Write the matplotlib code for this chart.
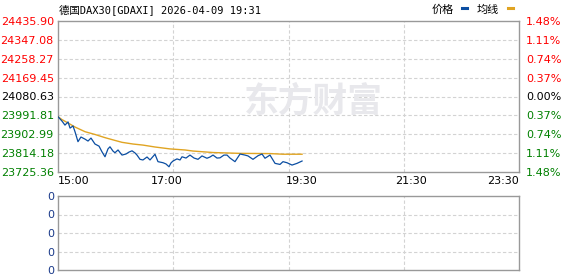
import matplotlib
matplotlib.use("Agg")
import matplotlib.pyplot as plt
import numpy as np

# ---- data ----
title = "德国DAX30[GDAXI] 2026-04-09 19:31"
y_ticks = [24435.90, 24347.08, 24258.27, 24169.45, 24080.63, 23991.81, 23902.99, 23814.18, 23725.36]
pct_labels = ["1.48%", "1.11%", "0.74%", "0.37%", "0.00%", "0.37%", "0.74%", "1.11%", "1.48%"]
time_labels = ["15:00", "17:00", "19:30", "21:30", "23:30"]
time_label_min = [0, 120, 270, 390, 510]
vol_labels = ["0", "0", "0", "0", "0"]

price_min = [0, 4.4, 7.7, 11.1, 13.3, 16.6, 18.8, 22.1, 25.4, 29.9, 33.2, 36.5, 40.9, 45.4, 48.7,
             52, 55.3, 57.5, 60.8, 63, 66.4, 70.8, 75.2, 78.5, 81.9, 85.2, 87.4, 90.7, 94, 98.5,
             101.8, 107.3, 110.6, 116.2, 119.5, 122.8, 125, 127.2, 131.6, 135, 137.2, 141.6, 146,
             150.5, 154.9, 159.3, 164.8, 168.2, 171.5, 175.9, 179.2, 183.6, 187, 190.3, 195.8,
             201.4, 206.9, 210.2, 215.7, 221.3, 225.7, 229, 234.5, 240.1, 245.6, 248.9, 253.3,
             258.9, 264.4, 270]
price_val = [23985.6, 23965, 23946, 23961, 23932, 23942, 23915, 23868, 23890, 23880, 23871, 23885,
             23857, 23847, 23820, 23797, 23834, 23844, 23824, 23816, 23829, 23805, 23810, 23819,
             23825, 23815, 23805, 23785, 23782, 23796, 23782, 23809, 23774, 23769, 23763, 23750,
             23768, 23777, 23787, 23782, 23797, 23791, 23805, 23791, 23785, 23801, 23790, 23796,
             23805, 23791, 23792, 23805, 23805, 23791, 23774, 23810, 23805, 23801, 23785, 23802,
             23810, 23790, 23805, 23766, 23761, 23774, 23769, 23758, 23766, 23777]

avg_min = [0, 4.4, 11.1, 18.8, 29.9, 40.9, 52, 63, 70.8, 83, 94, 107.3, 123.9, 140.5, 149.3,
           171.5, 201.4, 234.5, 248.9, 270]
avg_val = [23985.6, 23972, 23956, 23937, 23915, 23902, 23887, 23874, 23865, 23857, 23852, 23843,
           23834, 23829, 23824, 23817, 23813, 23812, 23809, 23809]

# ---- style ----
RED = "#ff0000"
GREEN = "#008000"
BLUE = "#0b4ea2"
GOLD = "#e0a422"
GRID = "#d3d3d3"
FRAME = "#999999"
plt.rcParams['font.family'] = ['DejaVu Sans', 'Noto Sans CJK SC']

fig = plt.figure(figsize=(5.78, 2.76), dpi=100)
W, H = 578, 276
L, R = 58, 519
ax = fig.add_axes([L / W, 1 - 172 / H, (R - L) / W, (172 - 21) / H])
axv = fig.add_axes([L / W, 1 - 270 / H, (R - L) / W, (270 - 196) / H])

for a in (ax, axv):
    a.set_xlim(0, 510)
    for s in a.spines.values():
        s.set_color(FRAME)
        s.set_linewidth(1.0)
    a.tick_params(length=0)
    for xg in [127.5, 255, 382.5]:
        a.axvline(xg, color=GRID, lw=0.8, ls=(0, (3, 2)), zorder=0)

# main axes
ax.set_ylim(y_ticks[-1], y_ticks[0])
for yv in y_ticks[1:-1]:
    ax.axhline(yv, color=GRID, lw=0.8, ls=(0, (3, 2)), zorder=0)
ax.set_yticks(y_ticks)
ax.set_yticklabels([f"{v:.2f}" for v in y_ticks], fontsize=8)
for i, lab in enumerate(ax.get_yticklabels()):
    lab.set_color(RED if i < 4 else ("black" if i == 4 else GREEN))
ax.tick_params(axis='y', pad=3)

ax2 = ax.twinx()
ax2.set_ylim(ax.get_ylim())
ax2.set_yticks(y_ticks)
ax2.set_yticklabels(pct_labels, fontsize=8)
for i, lab in enumerate(ax2.get_yticklabels()):
    lab.set_color(RED if i < 4 else ("black" if i == 4 else GREEN))
ax2.tick_params(length=0, pad=5)
for s in ax2.spines.values():
    s.set_visible(False)

ax.set_xticks(time_label_min)
ax.set_xticklabels(time_labels, fontsize=8)
ax.tick_params(axis='x', pad=3)
xl = ax.get_xticklabels()
xl[0].set_horizontalalignment('left')
xl[-1].set_horizontalalignment('right')

# watermark
ax.text(0.555, 0.47, "东方财富", transform=ax.transAxes, fontsize=25, fontweight='bold',
        color="#e8e8ec", ha='center', va='center', family=['Noto Sans CJK SC'], zorder=0)

ax.plot(avg_min, avg_val, color=GOLD, lw=1.0, zorder=3)
ax.plot(price_min, price_val, color=BLUE, lw=0.9, zorder=4)

# volume axes
axv.set_ylim(0, 4)
for yv in [1, 2, 3]:
    axv.axhline(yv, color=GRID, lw=0.8, ls=(0, (3, 2)), zorder=0)
axv.set_yticks([4, 3, 2, 1, 0])
axv.set_yticklabels(vol_labels, fontsize=8, color="#1a3a8a")
axv.set_xticks([])
axv.tick_params(axis='y', pad=3)

# title & legend
fig.text(59 / W, 1 - 10 / H, title, fontsize=7.5, va='center', ha='left',
         family=['DejaVu Sans Mono', 'Noto Sans CJK SC'])
fig.text(432 / W, 1 - 10 / H, "价格", fontsize=8, va='center', ha='left', family=['Noto Sans CJK SC'])
fig.text(477 / W, 1 - 10 / H, "均线", fontsize=8, va='center', ha='left', family=['Noto Sans CJK SC'])
fig.add_artist(plt.Line2D([462 / W, 467 / W], [1 - 8 / H, 1 - 8 / H], color=BLUE, lw=2.2))
fig.add_artist(plt.Line2D([508 / W, 513 / W], [1 - 8 / H, 1 - 8 / H], color=GOLD, lw=2.2))

fig.savefig("out.png", dpi=100)
